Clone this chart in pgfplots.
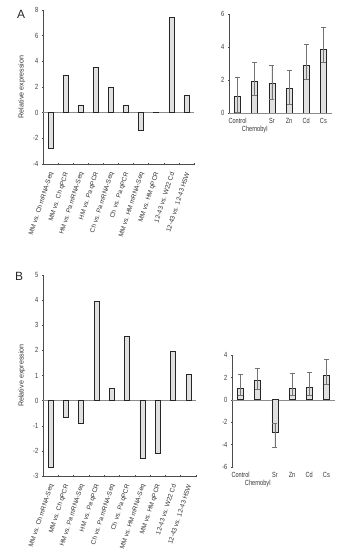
\documentclass[border=0pt]{standalone}
\usepackage{fontspec}
\setmainfont{Liberation Sans}
\newfontfamily\narrowfont[FakeStretch=0.75]{Liberation Sans}
\usepackage{pgfplots}
\pgfplotsset{compat=1.18}
\pgfplotsset{
  mybase/.style={
    scale only axis, anchor=south west,
    axis line style={black!70, line width=0.6pt},
    tick style={black!70, line width=0.5pt},
    major tick length=2.5bp, tick align=outside,
    yticklabel style={font=\narrowfont\fontsize{7.5}{8}\selectfont, text=black!80},
    /pgf/number format/assume math mode=true,
    ylabel style={font=\fontsize{7.2}{8}\selectfont, text=black!80},
    ybar,
  },
  nolines/.style={x axis line style={-}, y axis line style={-}},
  barsty/.style={fill=black!12, draw=black!85, line width=0.65pt},
  zeroline/.style={extra y ticks={0}, extra y tick labels={}, extra y tick style={grid=major, major grid style={black!45, line width=0.6pt}, major tick length=0pt}},
  errsty/.style={error bars/.cd, y dir=both, y explicit, error bar style={black!55, line width=0.6pt}, error mark options={rotate=90, black!55, mark size=2.5bp, line width=0.6pt}},
  rotlabels/.style={xticklabel style={xshift=2bp, yshift=-4bp, rotate=72, anchor=east, font=\fontsize{6.5}{7}\selectfont, text=black!80}},
}
\begin{document}
\begin{tikzpicture}
\path[use as bounding box] (0,0) rectangle (343bp,550bp);

% ---------- A left ----------
\begin{axis}[mybase, at={(43bp,386bp)}, width=151bp, height=154bp,
  xmin=-0.5, xmax=9.5, ymin=-4, ymax=8, ytick={-4,-2,...,8},
  axis x line=bottom, axis y line=left, nolines,
  xtick={-0.5,0.5,...,9.5}, x tick label as interval,
  xticklabels={MM vs. Ch mRNA-Seq, MM vs. Ch qPCR, HM vs. Pa mRNA-Seq, HM vs. Pa qPCR, Ch vs. Pa mRNA-Seq, Ch vs. Pa qPCR, MM vs. HM mRNA-Seq, MM vs. HM qPCR, 12-43 vs. W22 Cd, 12-43 vs. 12-43 HSW},
  rotlabels,
  ylabel={Relative expression}, zeroline, bar width=5bp]
\addplot[barsty] coordinates {(0,-2.8) (1,2.9) (2,0.6) (3,3.5) (4,2.0) (5,0.6) (6,-1.4) (7,0.02) (8,7.4) (9,1.35)};
\end{axis}

% ---------- A right ----------
\begin{axis}[mybase, at={(229bp,437bp)}, width=103bp, height=99bp,
  xmin=-0.5, xmax=5.5, ymin=0, ymax=6, ytick={0,2,4,6},
  axis x line=bottom, axis y line=left, nolines, x axis line style={black!45},
  xtick={0,...,5}, xticklabels={\strut Control,{\strut\\Chernobyl},\strut Sr,\strut Zn,\strut Cd,\strut Cs},
  xtick style={draw=none},
  xticklabel style={font=\narrowfont\fontsize{7.5}{8}\selectfont, align=center, text=black!80},
  bar width=6bp]
\addplot[barsty, errsty] coordinates {
  (0,1.0) += (0,1.15) -= (0,0.95)
  (1,1.9) += (0,1.2) -= (0,0.85)
  (2,1.8) += (0,1.1) -= (0,0.95)
  (3,1.5) += (0,1.1) -= (0,0.95)
  (4,2.9) += (0,1.25) -= (0,0.85)
  (5,3.85) += (0,1.35) -= (0,0.75)};
\end{axis}

% ---------- B left ----------
\begin{axis}[mybase, at={(43bp,74bp)}, width=153bp, height=201bp,
  xmin=-0.5, xmax=9.5, ymin=-3, ymax=5, ytick={-3,...,5},
  axis x line=bottom, axis y line=left, nolines,
  xtick={-0.5,0.5,...,9.5}, x tick label as interval,
  xticklabels={MM vs. Ch mRNA-Seq, MM vs. Ch qPCR, HM vs. Pa mRNA-Seq, HM vs. Pa qPCR, Ch vs. Pa mRNA-Seq, Ch vs. Pa qPCR, MM vs. HM mRNA-Seq, MM vs. HM qPCR, 12-43 vs. W22 Cd, 12-43 vs. 12-43 HSW},
  rotlabels,
  ylabel={Relative expression}, zeroline, bar width=5bp]
\addplot[barsty] coordinates {(0,-2.65) (1,-0.65) (2,-0.9) (3,3.95) (4,0.5) (5,2.55) (6,-2.3) (7,-2.08) (8,1.97) (9,1.04)};
\end{axis}

% ---------- B right ----------
\begin{axis}[mybase, at={(232bp,83bp)}, width=103bp, height=112bp,
  xmin=-0.5, xmax=5.5, ymin=-6, ymax=4, ytick={-6,-4,...,4},
  axis x line=bottom, axis y line=left, nolines, x axis line style={draw=none},
  xtick={0,...,5}, xticklabels={\strut Control,{\strut\\Chernobyl},\strut Sr,\strut Zn,\strut Cd,\strut Cs},
  xtick style={draw=none},
  xticklabel style={font=\narrowfont\fontsize{7.5}{8}\selectfont, align=center, text=black!80},
  zeroline, bar width=6bp]
\addplot[barsty, errsty] coordinates {
  (0,1.0) += (0,1.3) -= (0,0.6)
  (1,1.75) += (0,1.1) -= (0,0.85)
  (2,-2.9) += (0,0.8) -= (0,1.35)
  (3,1.05) += (0,1.35) -= (0,0.65)
  (4,1.1) += (0,1.35) -= (0,0.7)
  (5,2.2) += (0,1.4) -= (0,0.8)};
\end{axis}

\node[font=\fontsize{12}{14}\selectfont, text=black!85] at (21bp,536bp) {A};
\node[font=\fontsize{12}{14}\selectfont, text=black!85] at (19bp,274bp) {B};
\end{tikzpicture}
\end{document}
